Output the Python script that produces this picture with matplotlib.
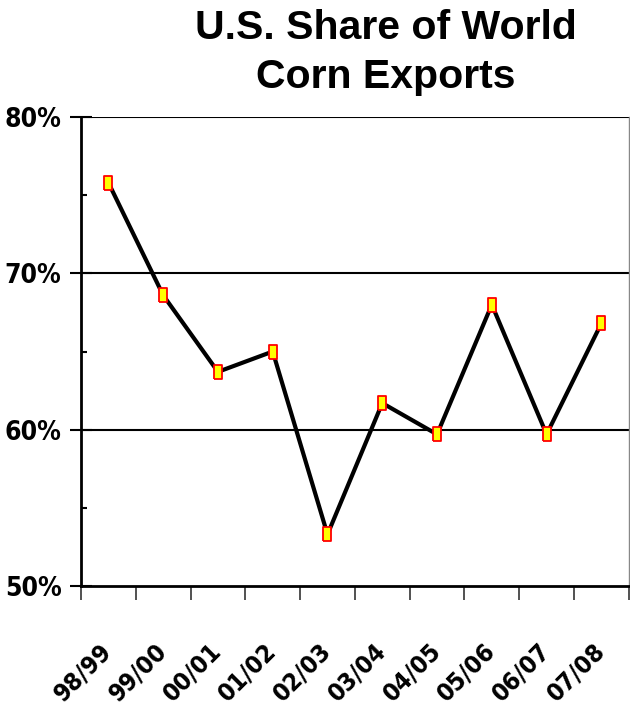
import numpy as np
import matplotlib.pyplot as plt
from matplotlib.ticker import MultipleLocator, FuncFormatter

# Data
years = ["98/99", "99/00", "00/01", "01/02", "02/03",
         "03/04", "04/05", "05/06", "06/07", "07/08"]
share = [75.8, 68.6, 63.7, 65.0, 53.3, 61.7, 59.7, 68.0, 59.7, 66.8]

x = np.arange(len(years))

fig = plt.figure(figsize=(6.3, 7.11), dpi=100)
ax = fig.add_axes([0.1286, 0.1758, 0.8694, 0.6596])

# rectangular marker, taller than wide
rect = [(-0.6, -1), (0.6, -1), (0.6, 1), (-0.6, 1), (-0.6, -1)]
ax.plot(x, share, color="black", linewidth=3, zorder=3,
        marker=rect, markersize=10, markerfacecolor="yellow",
        markeredgecolor="red", markeredgewidth=1.3)

ax.set_ylim(50, 80)
ax.set_xlim(-0.5, len(years) - 0.5)

for v in [60, 70, 80]:
    ax.axhline(v, color="black", linewidth=1.5, zorder=1)

ax.yaxis.set_major_locator(MultipleLocator(10))
ax.yaxis.set_minor_locator(MultipleLocator(5))
ax.yaxis.set_major_formatter(FuncFormatter(lambda v, p: f"{v:.0f}%"))
ax.tick_params(axis="y", which="major", direction="inout", length=16,
               width=1.5, pad=6)
ax.tick_params(axis="y", which="minor", direction="in", length=4, width=1.5)

ax.set_xticks(x)
ax.set_xticklabels(years)
ax.set_xticks(np.arange(len(years) + 1) - 0.5, minor=True)
ax.tick_params(axis="x", which="major", length=0, pad=44)
ax.tick_params(axis="x", which="minor", direction="out", length=10,
               width=1.2, color="#333333")

for lab in ax.get_yticklabels():
    lab.set_family("DejaVu Sans")
    lab.set_stretch("condensed")
    lab.set_fontsize(19)
    lab.set_fontweight("bold")
for lab in ax.get_xticklabels():
    lab.set_family("DejaVu Sans")
    lab.set_stretch("condensed")
    lab.set_fontsize(18)
    lab.set_fontweight("bold")
    lab.set_rotation(45)
    lab.set_ha("right")
    lab.set_va("center")
    lab.set_rotation_mode("anchor")

ax.spines["left"].set_linewidth(2)
ax.spines["bottom"].set_linewidth(2)
ax.spines["top"].set_visible(False)
ax.spines["right"].set_color("#888888")
ax.spines["right"].set_linewidth(1)

fig.text(0.612, 0.987, "U.S. Share of World\nCorn Exports",
         ha="center", va="top", fontsize=29.5, fontweight="bold",
         family=["Liberation Sans", "DejaVu Sans"], linespacing=1.35)

fig.savefig("out.png", dpi=100)
